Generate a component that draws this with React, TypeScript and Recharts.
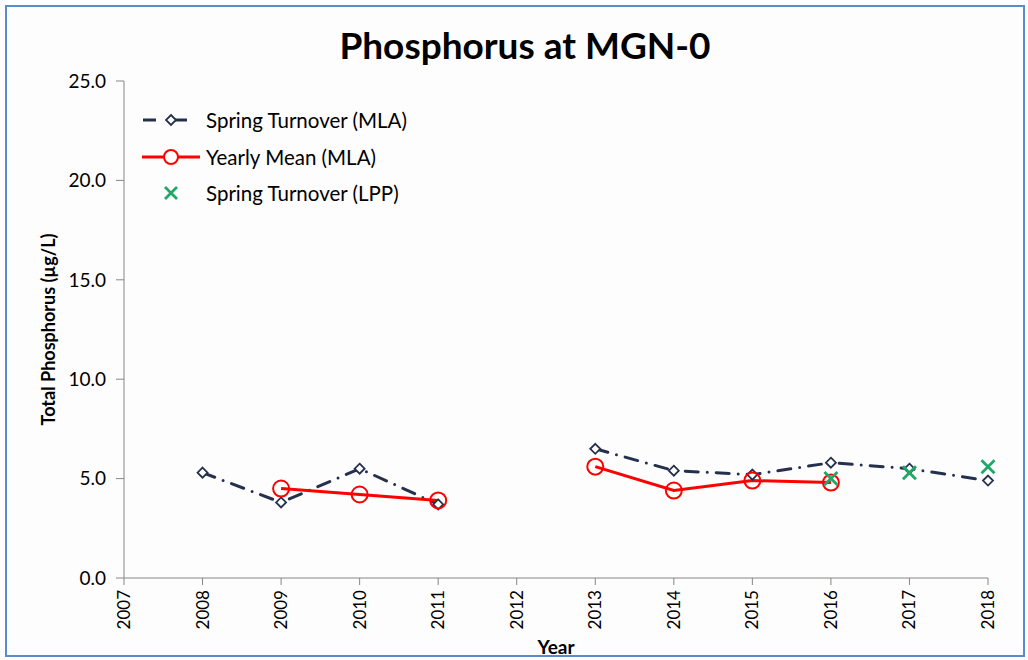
import { LineChart, Line, XAxis, YAxis, Label } from "recharts";

// years with observations (2012 has none, so the lines break there)
const years = [2008, 2009, 2010, 2011, 2012, 2013, 2014, 2015, 2016, 2017, 2018];
const springMla = [5.3, 3.8, 5.5, 3.7, null, 6.5, 5.4, 5.2, 5.8, 5.5, 4.9];
const yearlyMean = [null, 4.5, 4.2, 3.9, null, 5.6, 4.4, 4.9, 4.8, null, null];
const springLpp = [null, null, null, null, null, null, null, null, 5.0, 5.3, 5.6];

const xTicks = [2007, 2008, 2009, 2010, 2011, 2012, 2013, 2014, 2015, 2016, 2017, 2018];
const yTicks = [0, 5, 10, 15, 20, 25];

const FONT = "Lato, 'Open Sans', sans-serif";
const AXIS = "#868686";
const NAVY = "#25304d";
const RED = "#ff0000";
const GREEN = "#1fa866";

const data = years.map((year, i) => ({
  year,
  springMla: springMla[i],
  yearlyMean: yearlyMean[i],
  springLpp: springLpp[i],
}));

const YearTick = ({ x, y, payload }: any) => (
  <text
    x={x}
    y={y}
    transform={`rotate(-90, ${x}, ${y})`}
    dx={-3}
    dy={6}
    textAnchor="end"
    fontSize={17}
    fontFamily={FONT}
    fill="#000"
  >
    {payload.value}
  </text>
);

const Diamond = ({ cx, cy, value }: any) => {
  if (value == null || cx == null || cy == null) return null;
  const r = 5;
  return (
    <path
      d={`M${cx},${cy - r} L${cx + r},${cy} L${cx},${cy + r} L${cx - r},${cy} Z`}
      fill="#fff"
      stroke={NAVY}
      strokeWidth={1.8}
    />
  );
};

const Cross = ({ cx, cy, value }: any) => {
  if (value == null || cx == null || cy == null) return null;
  const r = 6.5;
  return (
    <path
      d={`M${cx - r},${cy - r} L${cx + r},${cy + r} M${cx + r},${cy - r} L${cx - r},${cy + r}`}
      stroke={GREEN}
      strokeWidth={2.8}
      fill="none"
    />
  );
};

function Legend() {
  const row = {
    position: "absolute" as const,
    left: 0,
    display: "flex",
    alignItems: "center",
    whiteSpace: "nowrap" as const,
  };
  const text = { fontFamily: FONT, fontSize: 20.5, color: "#000", marginLeft: 4, lineHeight: "20px" };
  return (
    <div style={{ position: "absolute", left: 140, top: 110 }}>
      <div style={{ ...row, top: 0 }}>
        <svg width={62} height={20}>
          <line x1={3} y1={10} x2={60} y2={10} stroke={NAVY} strokeWidth={3} strokeDasharray="13 9 0 9" />
          <path d="M31,5 L36,10 L31,15 L26,10 Z" fill="#fff" stroke={NAVY} strokeWidth={1.8} />
        </svg>
        <span style={text}>Spring Turnover (MLA)</span>
      </div>
      <div style={{ ...row, top: 37 }}>
        <svg width={62} height={20}>
          <line x1={2} y1={10} x2={60} y2={10} stroke={RED} strokeWidth={3} />
          <circle cx={31} cy={10} r={7} fill="#fff" stroke={RED} strokeWidth={2} />
        </svg>
        <span style={text}>Yearly Mean (MLA)</span>
      </div>
      <div style={{ ...row, top: 73 }}>
        <svg width={62} height={20}>
          <path d="M25,4 L37,16 M37,4 L25,16" stroke={GREEN} strokeWidth={2.8} />
        </svg>
        <span style={text}>Spring Turnover (LPP)</span>
      </div>
    </div>
  );
}

export default function App() {
  return (
    <div style={{ position: "absolute", left: 0, top: 0, width: 1028, height: 660, background: "#fff" }}>
      <div
        style={{
          position: "absolute",
          left: 5,
          top: 5,
          width: 1016,
          height: 648,
          border: "2px solid #5a8ccc",
          background: "#fdfdfd",
        }}
      />
      <div
        style={{
          position: "absolute",
          left: 0,
          top: 22,
          width: 1050,
          textAlign: "center",
          fontFamily: FONT,
          fontWeight: 700,
          fontSize: 37,
          color: "#000",
        }}
      >
        Phosphorus at MGN-0
      </div>
      <div style={{ position: "absolute", left: 0, top: 0 }}>
        <LineChart width={1028} height={660} data={data} margin={{ top: 81, right: 40, bottom: 2, left: 64 }}>
          <XAxis
            dataKey="year"
            type="number"
            domain={[2007, 2018]}
            ticks={xTicks}
            interval={0}
            allowDecimals={false}
            stroke={AXIS}
            tickLine={{ stroke: AXIS }}
            tickSize={7}
            tick={<YearTick />}
            height={80}
          >
            <Label
              value="Year"
              position="insideBottom"
              offset={4}
              style={{ fontFamily: FONT, fontWeight: 700, fontSize: 19, fill: "#000" }}
            />
          </XAxis>
          <YAxis
            type="number"
            domain={[0, 25]}
            ticks={yTicks}
            interval={0}
            width={60}
            stroke={AXIS}
            tickSize={8}
            tickMargin={10}
            tickFormatter={(v: number) => v.toFixed(1)}
            tick={{ fontFamily: FONT, fontSize: 19, fill: "#000" }}
          >
            <Label
              value="Total Phosphorus (µg/L)"
              angle={-90}
              position="insideLeft"
              offset={-15}
              style={{ fontFamily: FONT, fontWeight: 700, fontSize: 18, fill: "#000", textAnchor: "middle" }}
            />
          </YAxis>
          <Line
            dataKey="springMla"
            stroke={NAVY}
            strokeWidth={3}
            strokeDasharray="13 9 0 9"
            strokeLinecap="round"
            dot={<Diamond />}
            activeDot={false}
            connectNulls={false}
            isAnimationActive={false}
          />
          <Line
            dataKey="yearlyMean"
            stroke={RED}
            strokeWidth={3}
            dot={{ r: 8, fill: "none", stroke: RED, strokeWidth: 2 }}
            activeDot={false}
            connectNulls={false}
            isAnimationActive={false}
          />
          <Line
            dataKey="springLpp"
            stroke="none"
            dot={<Cross />}
            activeDot={false}
            isAnimationActive={false}
          />
        </LineChart>
      </div>
      <Legend />
    </div>
  );
}
